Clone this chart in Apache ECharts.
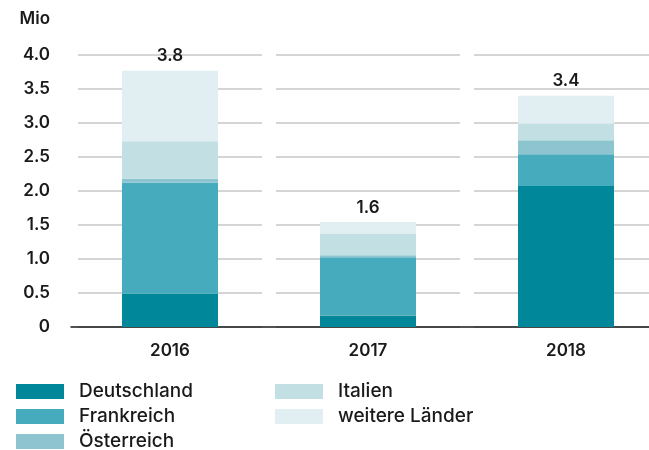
<!DOCTYPE html>
<html lang="de">

<head>
  <meta charset="UTF-8">
  <title>Mio nach Ländern</title>
  <style>
    html, body { margin: 0; padding: 0; background: #fff; }
    #chart { width: 649px; height: 450px; }
  </style>
</head>

<body>
  <div id="chart"></div>

  <script src="https://cdn.jsdelivr.net/npm/echarts@6/dist/echarts.min.js"></script>
  <script>
    // Daten (Mio)
    const years = ['2016', '2017', '2018'];
    const deutschland = [0.49, 0.165, 2.075];
    const frankreich = [1.63, 0.86, 0.465];
    const oesterreich = [0.06, 0.03, 0.205];
    const italien = [0.55, 0.32, 0.245];
    const weitere = [1.04, 0.17, 0.41];
    const totalLabels = ['3.8', '1.6', '3.4'];

    const colors = ['#00879a', '#46abbc', '#8dc4cf', '#c2dfe4', '#e1eef2'];
    const font = 'Inter, "Noto Sans", sans-serif';

    window.onload = () => {
      const dom = document.getElementById('chart');
      const chart = echarts.init(dom, null, { renderer: 'canvas' });

      const names = ['Deutschland', 'Frankreich', 'Österreich', 'Italien', 'weitere Länder'];
      const values = [deutschland, frankreich, oesterreich, italien, weitere];

      const series = names.map((n, i) => ({
        name: n,
        type: 'bar',
        stack: 'gesamt',
        barWidth: 96,
        itemStyle: { color: colors[i] },
        emphasis: { disabled: true },
        data: values[i],
        label: i === 4 ? {
          show: true,
          position: 'top',
          distance: 6,
          formatter: (p) => totalLabels[p.dataIndex],
          color: '#1a1a1a',
          fontFamily: font,
          fontWeight: 600,
          fontSize: 17
        } : { show: false }
      }));

      // eine Legende pro Eintrag, damit die Spalten genau sitzen
      const legendPos = [[16, 382], [16, 407], [16, 432], [275, 382], [275, 407]];
      const legends = names.map((n, i) => ({
        left: legendPos[i][0],
        top: legendPos[i][1],
        padding: 0,
        itemWidth: 48,
        itemHeight: 15,
        icon: 'rect',
        selectedMode: false,
        textStyle: {
          color: '#1a1a1a',
          fontFamily: font,
          fontWeight: 500,
          fontSize: 19,
          lineHeight: 15,
          padding: [0, 0, 0, 10]
        },
        data: [n]
      }));

      const option = {
        animation: false,
        color: colors,
        grid: { left: 71, top: 55, width: 594, height: 272, outerBoundsMode: 'none' },
        legend: legends,
        xAxis: {
          type: 'category',
          data: years,
          axisTick: { show: false },
          axisLine: { lineStyle: { color: '#1a1a1a', width: 1.5 } },
          axisLabel: {
            margin: 15,
            color: '#1a1a1a',
            fontFamily: font,
            fontWeight: 600,
            fontSize: 17
          }
        },
        yAxis: {
          type: 'value',
          min: 0,
          max: 4,
          interval: 0.5,
          name: 'Mio',
          nameLocation: 'end',
          nameGap: 28,
          nameTextStyle: {
            align: 'right',
            padding: [0, 21, 0, 0],
            color: '#1a1a1a',
            fontFamily: font,
            fontWeight: 600,
            fontSize: 17
          },
          axisLine: { show: false },
          axisTick: { show: false },
          axisLabel: {
            margin: 21,
            color: '#1a1a1a',
            fontFamily: font,
            fontWeight: 600,
            fontSize: 17,
            formatter: (v) => v === 0 ? '0' : v.toFixed(1)
          },
          splitLine: {
            lineStyle: {
              color: '#c8c8c8',
              width: 1.5,
              type: [184, 14],
              dashOffset: 191
            }
          }
        },
        series: series
      };

      chart.setOption(option);
    };
  </script>
</body>

</html>
